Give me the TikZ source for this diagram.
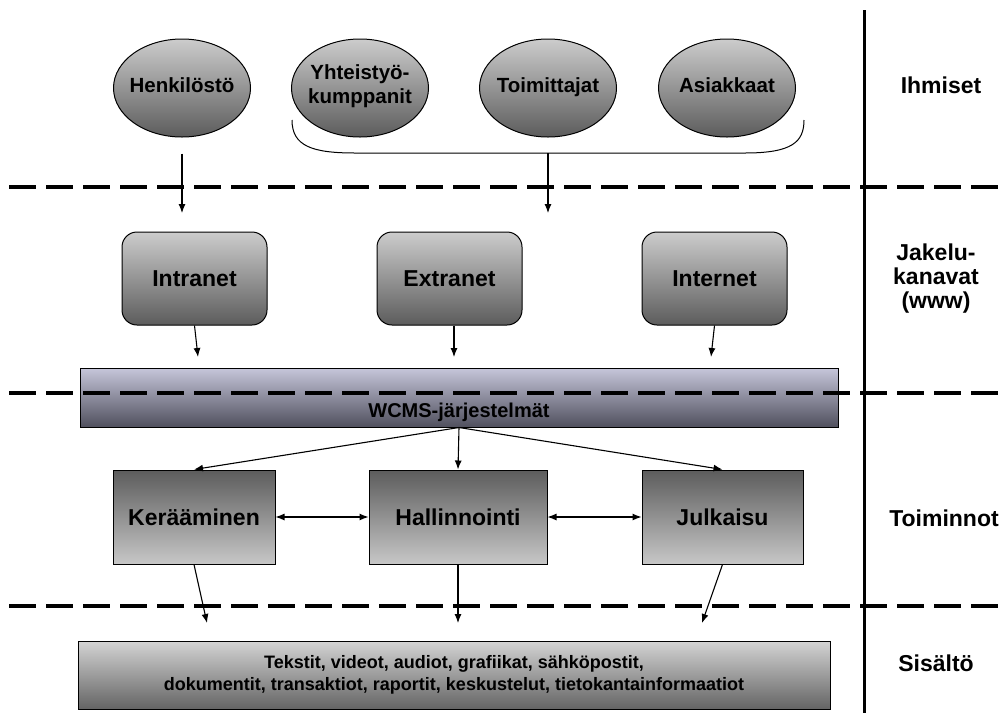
\documentclass[tikz,border=0pt]{standalone}
\usepackage{fontspec}
\setmainfont{Liberation Sans}
\usetikzlibrary{shapes.geometric,arrows.meta}

\definecolor{vaalea}{HTML}{CCCCCC}
\definecolor{tumma}{HTML}{5C5C5C}
\definecolor{liila}{HTML}{C6C6DA}
\definecolor{liilatumma}{HTML}{50505E}

\tikzset{
  henkilo/.style={ellipse, draw, line width=1pt, minimum width=137pt, minimum height=98pt,
    inner xsep=-4pt, inner ysep=0pt, align=center, top color=vaalea, bottom color=tumma,
    font=\fontsize{20.5}{24}\selectfont\bfseries, execute at begin node=\strut},
  kanava/.style={rectangle, rounded corners=15pt, draw, line width=1pt, minimum width=145pt,
    minimum height=93pt, top color=vaalea, bottom color=tumma,
    font=\fontsize{23}{26}\selectfont\bfseries},
  toiminto/.style={rectangle, draw, line width=1pt, minimum height=94pt,
    top color=tumma, bottom color=vaalea!110, font=\fontsize{23}{26}\selectfont\bfseries},
  taso/.style={align=center, font=\fontsize{23}{24}\selectfont\bfseries},
  raja/.style={line width=4pt, dash pattern=on 27pt off 10pt},
  nuoli/.style={->, line width=1.1pt}
}

\begin{document}
\begin{tikzpicture}[x=1pt, y=-1pt, >={Latex[length=9pt,width=7pt]}]
    \useasboundingbox (0,0) rectangle (1003,713);

    % Ihmiset
    \node[henkilo] (henk) at (182,88) {Henkilöstö};
    \node[henkilo] (yht) at (360,88) {Yhteistyö-\\kumppanit};
    \node[henkilo] (toim) at (548,88) {Toimittajat};
    \node[henkilo] (asiak) at (727,88) {Asiakkaat};

    % kaari ulkoisten ryhmien alla
    \draw[line width=1pt] (292,120) .. controls (292,146) and (312,153) .. (355,153)
        -- (745,153) .. controls (792,153) and (804,142) .. (804,120);
    \coordinate (kaari) at (548,153);
    \coordinate (henk-loppu) at (182,213);
    \coordinate (kaari-loppu) at (548,213);
    \draw[nuoli] ([yshift=-16pt]henk.south) -- (henk-loppu);
    \draw[nuoli] (kaari) -- (kaari-loppu);

    % Jakelukanavat
    \node[kanava] (intra) at (194.5,278.5) {Intranet};
    \node[kanava] (extra) at (449.5,278.5) {Extranet};
    \node[kanava] (inter) at (714.5,278.5) {Internet};

    \coordinate (intra-loppu) at (198,357);
    \coordinate (extra-loppu) at (454,357);
    \coordinate (inter-loppu) at (711,357);
    \draw[nuoli] (intra.south) -- (intra-loppu);
    \draw[nuoli] ([xshift=4.5pt]extra.south) -- (extra-loppu);
    \draw[nuoli] (inter.south) -- (inter-loppu);

    % WCMS
    \node[draw, line width=1pt, minimum width=758pt, minimum height=59pt,
        top color=liila, bottom color=liilatumma] (wcms) at (459,397.5) {};
    \node[anchor=base, font=\fontsize{20}{24}\selectfont\bfseries] (wcms-nimi) at (459,417)
        {WCMS-järjestelmät};

    % Toiminnot
    \node[toiminto, minimum width=162pt] (ker) at (194,517) {Kerääminen};
    \node[toiminto, minimum width=178pt] (hal) at (458,517) {Hallinnointi};
    \node[toiminto, minimum width=161pt] (jul) at (722.5,517) {Julkaisu};

    \draw[nuoli] (wcms.south) -- (ker.north);
    \draw[nuoli] (wcms.south) -- (hal.north);
    \draw[nuoli] (wcms.south) -- (jul.north);
    \draw[nuoli, <->] (ker) -- (hal);
    \draw[nuoli, <->] (hal) -- (jul);

    \coordinate (ker-loppu) at (207,623);
    \coordinate (hal-loppu) at (458,623);
    \coordinate (jul-loppu) at (702,623);
    \draw[nuoli] (ker.south) -- (ker-loppu);
    \draw[nuoli] (hal.south) -- (hal-loppu);
    \draw[nuoli] (jul.south) -- (jul-loppu);

    % Sisältö
    \node[draw, line width=1pt, minimum width=752pt, minimum height=68pt, align=center,
        top color=vaalea!85, bottom color=tumma!95!white,
        font=\fontsize{18}{22}\selectfont\bfseries] (sis) at (454,675)
        {Tekstit, videot, audiot, grafiikat, sähköpostit,\\
         dokumentit, transaktiot, raportit, keskustelut, tietokantainformaatiot};

    % tasojen rajat
    \draw[raja] (9,187) -- (1003,187);
    \draw[raja] (9,393) -- (1003,393);
    \draw[raja] (9,606) -- (1003,606);
    \draw[line width=3pt] (864,10) -- (864,713);

    % Tasot
    \node[taso] (ihm) at (941,85) {Ihmiset};
    \node[taso] (jak) at (936,279) {Jakelu-\\kanavat\\(www)};
    \node[taso] (toi) at (944,518) {Toiminnot};
    \node[taso] (sisa) at (936,663) {Sisältö};
\end{tikzpicture}
\end{document}
